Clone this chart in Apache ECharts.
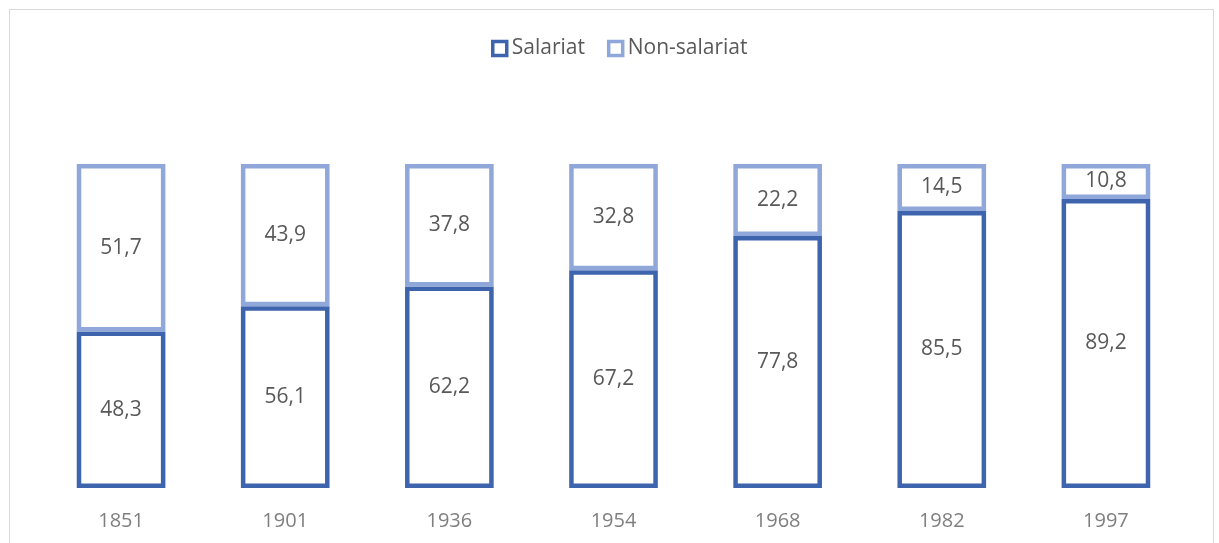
<!DOCTYPE html>
<html><head><meta charset="utf-8">
<script src="https://cdn.jsdelivr.net/npm/echarts@6/dist/echarts.min.js"></script>
<style>html,body{margin:0;padding:0;background:#fff}#c{width:1219px;height:543px}
#frame{position:absolute;left:9px;top:9px;width:1203px;height:560px;border:1px solid #d9d9d9;pointer-events:none}</style>
</head><body><div id="c"></div><div id="frame"></div>
<script>
const categories = ['1851','1901','1936','1954','1968','1982','1997'];
const salariat = [48.3, 56.1, 62.2, 67.2, 77.8, 85.5, 89.2];
const nonSalariat = [51.7, 43.9, 37.8, 32.8, 22.2, 14.5, 10.8];
const seriesNames = ['Salariat', 'Non-salariat'];

const dark = '#3F64AE', light = '#8FA7D9';
const font = '"Open Sans", sans-serif';
const fmt = p => String(p.value).replace('.', ',');
const chart = echarts.init(document.getElementById('c'));
chart.setOption({
  animation: false,
  grid: {left: 39, right: 31, top: 164, bottom: 55},
  legend: {
    top: 33, left: 486, itemWidth: 14, itemHeight: 14, itemGap: 22,
    icon: 'rect',
    textStyle: {color: '#595959', fontSize: 21, fontFamily: font},
    data: [
      {name: seriesNames[0], itemStyle: {color: '#fff', borderColor: dark, borderWidth: 3.5}},
      {name: seriesNames[1], itemStyle: {color: '#fff', borderColor: light, borderWidth: 3.5}}
    ]
  },
  xAxis: {
    type: 'category', data: categories,
    axisLine: {show: false}, axisTick: {show: false},
    axisLabel: {color: '#7f7f7f', fontSize: 20, fontFamily: font, margin: 23}
  },
  yAxis: {type: 'value', min: 0, max: 100, show: false, splitLine: {show: false}},
  series: [
    {name: seriesNames[0], type: 'bar', stack: 's', data: salariat, barWidth: '54%',
     itemStyle: {color: '#fff', borderColor: dark, borderWidth: 4.5},
     label: {show: true, position: 'inside', formatter: fmt, color: '#595959', fontSize: 21, fontFamily: font}},
    {name: seriesNames[1], type: 'bar', stack: 's', data: nonSalariat, barWidth: '54%',
     itemStyle: {color: '#fff', borderColor: light, borderWidth: 4.5},
     label: {show: true, position: 'inside', formatter: fmt, color: '#595959', fontSize: 21, fontFamily: font}}
  ]
});
</script></body></html>
